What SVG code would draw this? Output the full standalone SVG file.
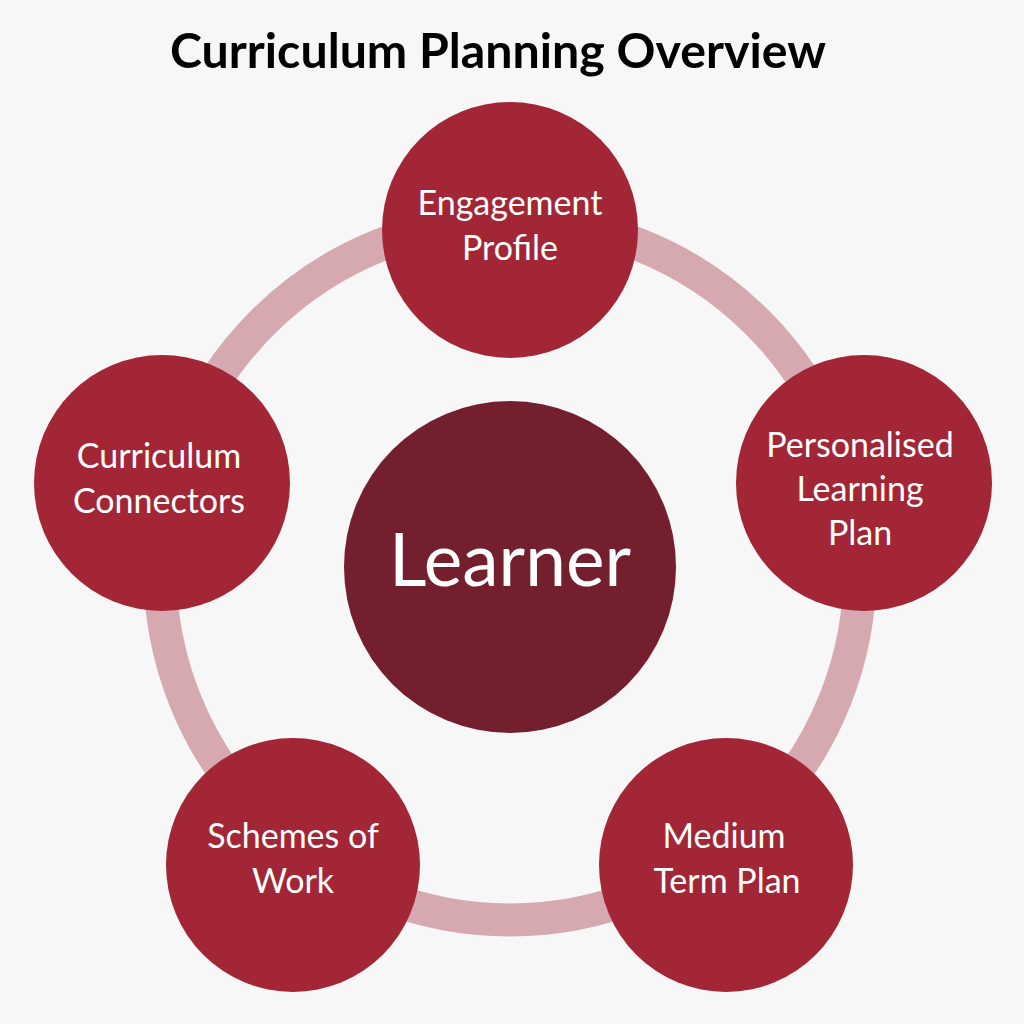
<svg xmlns="http://www.w3.org/2000/svg" width="1024" height="1024" viewBox="0 0 1024 1024">
<style>
.node{fill:#a22636;}
.hub{fill:#741f2d;}
.lbl{font-family:Lato,"Open Sans","Liberation Sans",sans-serif;font-size:34px;fill:#ffffff;text-anchor:middle;}
.ring{fill:none;stroke:#d6a8af;stroke-width:33;}
</style>
<rect width="1024" height="1024" fill="#f7f7f7"/>
<text x="498" y="68" font-family="Lato,'Open Sans','Liberation Sans',sans-serif" font-weight="700" font-size="48" fill="#000" text-anchor="middle" textLength="656" lengthAdjust="spacingAndGlyphs">Curriculum Planning Overview</text>
<g id="connectors">
<circle class="ring" cx="510" cy="570" r="350"/>
</g>
<g id="learner">
<circle class="hub" cx="510" cy="567" r="166"/>
<text class="lbl" x="510" y="586" style="font-size:73px">Learner</text>
</g>
<g id="engagement-profile">
<circle class="node" cx="510" cy="230" r="128"/>
<text class="lbl" x="510" y="215">Engagement</text>
<text class="lbl" x="510" y="260">Profile</text>
</g>
<g id="personalised-learning-plan">
<circle class="node" cx="864" cy="483" r="128"/>
<text class="lbl" x="860" y="457">Personalised</text>
<text class="lbl" x="860" y="501">Learning</text>
<text class="lbl" x="860" y="545">Plan</text>
</g>
<g id="medium-term-plan">
<circle class="node" cx="726" cy="865" r="127"/>
<text class="lbl" x="724" y="848">Medium</text>
<text class="lbl" x="727" y="893">Term Plan</text>
</g>
<g id="schemes-of-work">
<circle class="node" cx="293" cy="865" r="127"/>
<text class="lbl" x="293" y="848">Schemes of</text>
<text class="lbl" x="293" y="893">Work</text>
</g>
<g id="curriculum-connectors">
<circle class="node" cx="162" cy="483" r="128"/>
<text class="lbl" x="159" y="468">Curriculum</text>
<text class="lbl" x="159" y="513">Connectors</text>
</g>
</svg>
